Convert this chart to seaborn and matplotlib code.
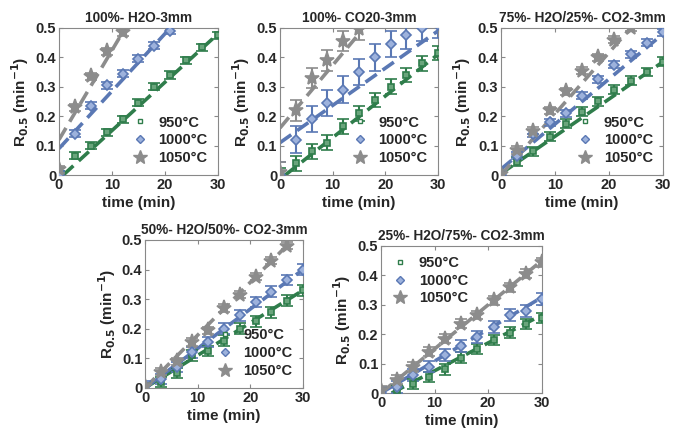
import numpy as np
import pandas as pd
import seaborn as sns
import matplotlib.pyplot as plt

# time axis (min)
t = [0, 3, 6, 9, 12, 15, 18, 21, 24, 27, 30]

titles = ['100%- H2O-3mm', '100%- CO20-3mm', '75%- H2O/25%- CO2-3mm',
          '50%- H2O/50%- CO2-3mm', '25%- H2O/75%- CO2-3mm']
temps = ['950°C', '1000°C', '1050°C']

# R0.5 values, per panel: [950, 1000, 1050]
r_p1 = [[0.0, 0.065, 0.10, 0.145, 0.19, 0.245, 0.30, 0.34, 0.39, 0.435, 0.475],
        [0.0, 0.14, 0.235, 0.305, 0.345, 0.395, 0.44, 0.49],
        [0.02, 0.23, 0.335, 0.42, 0.485]]
r_p2 = [[0.0, 0.04, 0.08, 0.11, 0.165, 0.21, 0.255, 0.30, 0.34, 0.38, 0.415],
        [0.0, 0.12, 0.19, 0.245, 0.29, 0.35, 0.40, 0.445, 0.475, 0.50, 0.51],
        [0.01, 0.22, 0.33, 0.39, 0.455, 0.495]]
r_p3 = [[0.0, 0.045, 0.08, 0.13, 0.175, 0.215, 0.25, 0.29, 0.32, 0.35, 0.385],
        [0.0, 0.065, 0.14, 0.18, 0.21, 0.27, 0.325, 0.375, 0.41, 0.45, 0.485],
        [0.005, 0.085, 0.15, 0.22, 0.285, 0.355, 0.40, 0.46, 0.50]]
r_p4 = [[0.0, 0.02, 0.05, 0.11, 0.125, 0.16, 0.20, 0.225, 0.255, 0.295, 0.33],
        [0.005, 0.03, 0.07, 0.12, 0.155, 0.20, 0.245, 0.29, 0.325, 0.365, 0.40],
        [0.005, 0.055, 0.09, 0.155, 0.195, 0.27, 0.315, 0.375, 0.43, 0.48]]
r_p5 = [[0.0, 0.01, 0.03, 0.055, 0.08, 0.12, 0.15, 0.18, 0.205, 0.235, 0.255],
        [0.0, 0.02, 0.06, 0.09, 0.13, 0.16, 0.19, 0.225, 0.265, 0.28, 0.32],
        [0.01, 0.045, 0.09, 0.14, 0.185, 0.235, 0.265, 0.315, 0.36, 0.405, 0.445]]

# error bar half widths per panel and series
err_p1 = [0.012, 0.012, 0.012]
err_p2 = [0.025, 0.045, 0.035]
err_p3 = [0.015, 0.012, 0.012]
err_p4 = [0.018, 0.018, 0.012]
err_p5 = [0.018, 0.02, 0.015]

# dashed fit lines: (t_start, r_start, t_end, r_end) per series
fit_p1 = [(0.8, 0.0, 30, 0.48), (0, 0.09, 21, 0.5), (0, 0.12, 12.5, 0.5)]
fit_p2 = [(1, 0.0, 30, 0.41), (0, 0.11, 30, 0.49), (0, 0.16, 15, 0.48)]
fit_p3 = [(0, 0.005, 30, 0.385), (0, 0.02, 30, 0.48), (0, 0.0, 24, 0.5)]
fit_p4 = [(0, 0.0, 30, 0.33), (0, 0.0, 30, 0.40), (0, 0.0, 28, 0.5)]
fit_p5 = [(2, 0.0, 30, 0.265), (0, 0.0, 30, 0.325), (0, 0.0, 30, 0.45)]

panels = [(r_p1, err_p1, fit_p1), (r_p2, err_p2, fit_p2), (r_p3, err_p3, fit_p3),
          (r_p4, err_p4, fit_p4), (r_p5, err_p5, fit_p5)]

sns.set_style('ticks')
plt.rcParams['font.family'] = ['Liberation Sans', 'DejaVu Sans']
plt.rcParams['font.weight'] = 'bold'

colors = ['#2f7d4b', '#5a78b4', '#8c8c8c']
faces = ['#6aa57c', '#9db2dc', '#8c8c8c']
markers = ['s', 'D', '*']
msizes = [4.5, 5.5, 11]

fig = plt.figure(figsize=(6.78, 4.30), dpi=100)
boxes = [[0.087, 0.593, 0.2345, 0.342],
         [0.413, 0.593, 0.233, 0.342],
         [0.739, 0.593, 0.239, 0.342],
         [0.214, 0.098, 0.233, 0.344],
         [0.562, 0.086, 0.237, 0.342]]

for i, (vals, errs, fits) in enumerate(panels):
    ax = fig.add_axes(boxes[i])
    for j in range(3):
        x = t[:len(vals[j])]
        fx = [fits[j][0], fits[j][2]]
        fy = [fits[j][1], fits[j][3]]
        sns.lineplot(x=fx, y=fy, ax=ax, color=colors[j], lw=2.6,
                     dashes=False, linestyle=(0, (3.8, 2.0)), zorder=2)
        ax.errorbar(x, vals[j], yerr=errs[j], fmt=markers[j], color=colors[j],
                    mfc=faces[j], mec=colors[j], ms=msizes[j], mew=1.2,
                    elinewidth=1.5, capsize=4, capthick=1.5, zorder=3)
    ax.set_xlim(0, 30)
    ax.set_ylim(0, 0.5)
    ax.set_xticks([0, 10, 20, 30])
    ax.set_yticks([0, 0.1, 0.2, 0.3, 0.4, 0.5])
    ax.set_yticklabels(['0', '0.1', '0.2', '0.3', '0.4', '0.5'])
    ax.tick_params(direction='in', top=True, right=True, length=3,
                   labelsize=10.5, pad=2, color='#888888')
    for lab in ax.get_xticklabels() + ax.get_yticklabels():
        lab.set_fontweight('bold')
    for s in ax.spines.values():
        s.set_color('#888888')
        s.set_linewidth(0.8)
    ax.set_title(titles[i], fontsize=9.8, fontweight='bold', pad=4)
    ax.set_xlabel('time (min)', fontsize=11, fontweight='bold', labelpad=3)
    ax.set_ylabel(r'R$_{\mathbf{0.5}}$ (min$^{\mathbf{-1}}$)', fontsize=11,
                  fontweight='bold', labelpad=3)
    leg_handles = [plt.Line2D([], [], ls='none', marker=markers[k], color=colors[k],
                              mfc=faces[k] if k else 'white', mec=colors[k],
                              ms=msizes[k] - 1) for k in range(3)]
    loc = 'upper left' if i == 4 else 'lower right'
    leg = ax.legend(leg_handles, temps, loc=loc, frameon=False, fontsize=10.5,
                    handletextpad=0.7, borderaxespad=0.3, labelspacing=0.25,
                    handlelength=1.2)
    for txt in leg.get_texts():
        txt.set_fontweight('bold')

fig.savefig('out.png', dpi=100)
